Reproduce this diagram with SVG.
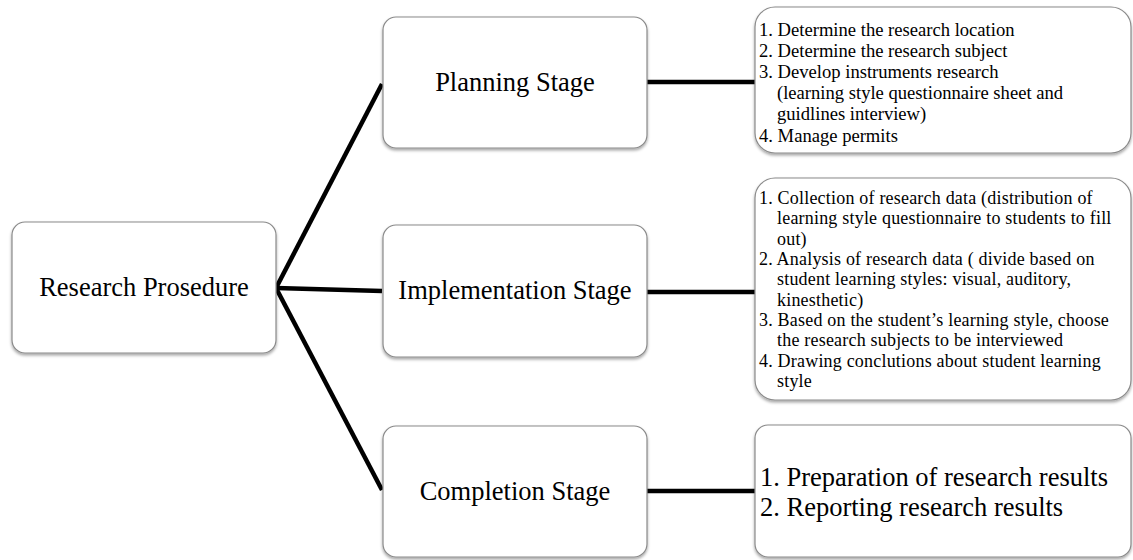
<svg xmlns="http://www.w3.org/2000/svg" width="1133" height="560" viewBox="0 0 1133 560">
<defs>
<filter id="sh" x="-5%" y="-5%" width="110%" height="115%">
<feDropShadow dx="0" dy="2" stdDeviation="1.5" flood-color="#000" flood-opacity="0.35"/>
</filter>
<style>
.box{fill:#fff;stroke:#8a8a8a;stroke-width:1.2;filter:url(#sh)}
.big{font-family:"Liberation Serif","Times New Roman",serif;font-size:26.5px;fill:#000}
.sm{font-family:"Liberation Serif","Times New Roman",serif;font-size:18.6px;fill:#000}
.sm2{font-family:"Liberation Serif","Times New Roman",serif;font-size:18px;letter-spacing:0.2px;fill:#000}
.conn{stroke:#000;stroke-width:4.5;fill:none;stroke-linecap:butt}
</style>
</defs>
<rect width="1133" height="560" fill="#fff"/>
<g id="connectors">
<line class="conn" x1="276" y1="288" x2="382" y2="84"/>
<line class="conn" x1="276" y1="288" x2="382" y2="291"/>
<line class="conn" x1="276" y1="288" x2="382" y2="490"/>
<line class="conn" x1="647" y1="82" x2="756" y2="82"/>
<line class="conn" x1="647" y1="292" x2="756" y2="292"/>
<line class="conn" x1="647" y1="491" x2="756" y2="491"/>
</g>
<g id="research">
<rect class="box" x="12" y="222" width="264" height="131" rx="13"/>
<text class="big" x="144" y="296" text-anchor="middle">Research Prosedure</text>
</g>
<g id="planning">
<rect class="box" x="383" y="17" width="264" height="131" rx="13"/>
<text class="big" x="515" y="91" text-anchor="middle">Planning Stage</text>
</g>
<g id="implementation">
<rect class="box" x="383" y="225" width="264" height="132" rx="13"/>
<text class="big" x="515" y="299" text-anchor="middle">Implementation Stage</text>
</g>
<g id="completion">
<rect class="box" x="383" y="426" width="264" height="131" rx="13"/>
<text class="big" x="515" y="500" text-anchor="middle">Completion Stage</text>
</g>
<g id="planning-details">
<rect class="box" x="755" y="7" width="376" height="146" rx="20"/>
<text class="sm">
<tspan x="759" y="36">1. Determine the research location</tspan>
<tspan x="759" y="57">2. Determine the research subject</tspan>
<tspan x="759" y="78">3. Develop instruments research</tspan>
<tspan x="777" y="99">(learning style questionnaire sheet and</tspan>
<tspan x="777" y="120">guidlines interview)</tspan>
<tspan x="759" y="142">4. Manage permits</tspan>
</text>
</g>
<g id="implementation-details">
<rect class="box" x="755" y="178" width="376" height="222" rx="20"/>
<text class="sm2">
<tspan x="759" y="204">1. Collection of research data (distribution of</tspan>
<tspan x="777" y="224.3">learning style questionnaire to students to fill</tspan>
<tspan x="777" y="244.6">out)</tspan>
<tspan x="759" y="265">2. Analysis of research data ( divide based on</tspan>
<tspan x="777" y="285.3">student learning styles: visual, auditory,</tspan>
<tspan x="777" y="305.6">kinesthetic)</tspan>
<tspan x="759" y="326">3. Based on the student’s learning style, choose</tspan>
<tspan x="777" y="346.3">the research subjects to be interviewed</tspan>
<tspan x="759" y="366.6">4. Drawing conclutions about student learning</tspan>
<tspan x="777" y="387">style</tspan>
</text>
</g>
<g id="completion-details">
<rect class="box" x="755" y="425" width="376" height="132" rx="13"/>
<text class="big">
<tspan x="760" y="486">1. Preparation of research results</tspan>
<tspan x="760" y="516">2. Reporting research results</tspan>
</text>
</g>
</svg>
